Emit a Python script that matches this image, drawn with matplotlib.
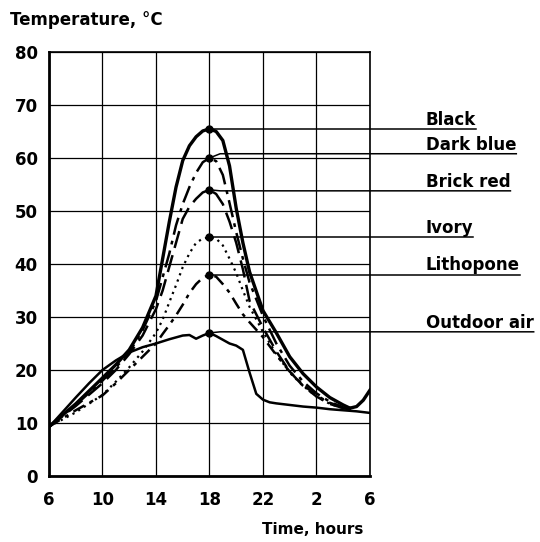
import matplotlib
matplotlib.use("Agg")
import matplotlib.pyplot as plt

plt.rcParams["font.family"] = ["DejaVu Sans"]
plt.rcParams["font.weight"] = "bold"

# Hours elapsed from 6 a.m. (30 = 6 a.m. next day)
hours = [6, 8, 10, 11, 12, 13, 14, 14.5, 15, 15.5, 16, 16.5, 17, 17.5, 18,
         18.5, 19, 19.5, 20, 20.5, 21, 22, 23, 24, 25, 26, 27, 28, 28.5]

black = [9.3, 13.6, 18.5, 21.0, 23.8, 28.0, 34.0, 41.0, 48.0, 54.5, 59.5, 62.3,
         64.0, 65.1, 65.5, 65.0, 63.3, 58.5, 50.5, 44.0, 38.5, 31.2, 27.0, 22.5,
         19.3, 16.8, 14.8, 13.4, 12.8]
black_tail_h = [28.5, 29, 29.5, 30]
black_tail = [12.8, 13.1, 14.3, 16.2]

dark_blue = [9.3, 13.4, 18.0, 20.5, 23.3, 27.5, 33.0, 37.5, 42.0, 47.3, 51.3, 54.5,
             57.2, 59.2, 60.0, 59.4, 56.8, 51.5, 46.0, 41.0, 36.5, 30.2, 25.0, 20.8,
             17.8, 15.6, 14.0, 12.9, 12.6]

brick_red = [9.3, 13.2, 17.5, 20.0, 23.0, 26.5, 31.5, 35.0, 39.5, 44.0, 48.5, 50.8,
             52.3, 53.5, 54.0, 53.2, 51.3, 48.0, 44.0, 39.0, 33.0, 28.0, 23.5, 19.7,
             17.0, 15.0, 13.6, 12.8, 12.6]

ivory = [9.3, 12.0, 15.3, 17.8, 20.5, 23.5, 27.0, 29.5, 32.8, 36.0, 39.4, 42.0,
         44.0, 44.8, 45.0, 44.8, 43.5, 41.0, 38.3, 35.0, 31.9, 27.2, 23.0, 19.5,
         17.0, 15.0, 13.6, 12.8, 12.6]

lithopone = [9.3, 12.4, 15.2, 17.5, 20.0, 22.5, 25.0, 26.8, 28.5, 30.3, 32.3, 34.5,
             36.2, 37.4, 38.0, 37.6, 36.2, 34.6, 32.5, 30.5, 29.0, 26.2, 22.8, 19.7,
             17.2, 15.2, 13.8, 13.0, 12.6]

air_h = [6, 7, 8, 9, 10, 11, 12, 13, 14, 15, 16, 16.5, 17, 17.5, 18, 18.5, 19,
         19.5, 20, 20.5, 21, 21.5, 22, 22.5, 23, 24, 25, 26, 27, 28, 29, 30]
outdoor_air = [9.2, 12.0, 14.8, 17.5, 20.0, 21.8, 23.3, 24.3, 25.0, 25.8, 26.5, 26.6,
               25.9, 26.5, 27.0, 26.4, 25.7, 25.0, 24.6, 23.8, 19.5, 15.5, 14.4, 13.9,
               13.7, 13.4, 13.1, 12.9, 12.6, 12.4, 12.2, 11.9]

peak_hour = 18
labels = ["Black", "Dark blue", "Brick red", "Ivory", "Lithopone", "Outdoor air"]
peaks = [65.5, 60, 54, 45, 38, 27]
label_levels = [65.5, 60.8, 53.8, 45, 38, 27.2]

xticks = [6, 10, 14, 18, 22, 26, 30]
xtick_labels = ["6", "10", "14", "18", "22", "2", "6"]
yticks = [0, 10, 20, 30, 40, 50, 60, 70, 80]

fig = plt.figure(figsize=(5.40, 5.42), dpi=100)
ax = fig.add_axes([0.0907, 0.1218, 0.5944, 0.7823])

ax.plot(hours, black, color="black", lw=2.4)
ax.plot(black_tail_h, black_tail, color="black", lw=2.4)
ax.plot(hours, dark_blue, color="black", lw=1.8, dashes=(7, 2.5, 1.5, 2.5))
ax.plot(hours, brick_red, color="black", lw=1.8, dashes=(7, 3))
ax.plot(hours, ivory, color="black", lw=1.6, dashes=(1, 2))
ax.plot(hours, lithopone, color="black", lw=1.8, dashes=(5, 2.5, 1.5, 2.5))
ax.plot(air_h, outdoor_air, color="black", lw=1.8)

ax.plot([peak_hour] * len(peaks), peaks, "o", color="black", ms=5, zorder=5)

ax.set_xlim(6, 30)
ax.set_ylim(0, 80)
ax.set_xticks(xticks)
ax.set_xticklabels(xtick_labels)
ax.set_yticks(yticks)
ax.tick_params(axis="x", length=0, pad=11, labelsize=12)
ax.tick_params(axis="y", length=0, pad=8, labelsize=12)
ax.grid(True, color="black", lw=0.9)
ax.set_axisbelow(True)
for side in ["left", "bottom"]:
    ax.spines[side].set_linewidth(2.0)
for side in ["top", "right"]:
    ax.spines[side].set_linewidth(1.2)

# Curve names on the right, underlined by leaders from the peak markers
fig.canvas.draw()
renderer = fig.canvas.get_renderer()
inv = ax.transData.inverted()
for name, peak, level in zip(labels, peaks, label_levels):
    t = ax.annotate(name, xy=(1.174, level), xycoords=("axes fraction", "data"),
                    xytext=(0, 3), textcoords="offset points", va="baseline",
                    fontsize=12, annotation_clip=False)
    bb = t.get_window_extent(renderer)
    x_end = inv.transform((bb.x1, 0))[0]
    ax.plot([peak_hour, peak_hour + 0.8, x_end], [peak, level, level],
            color="black", lw=1.1, clip_on=False)

fig.text(10 / 540, 1 - 25 / 542, "Temperature, °C", fontsize=12, va="baseline")
fig.text(363 / 540, 1 - 534 / 542, "Time, hours", fontsize=11, ha="right", va="baseline")

fig.savefig("out.png", dpi=100)
